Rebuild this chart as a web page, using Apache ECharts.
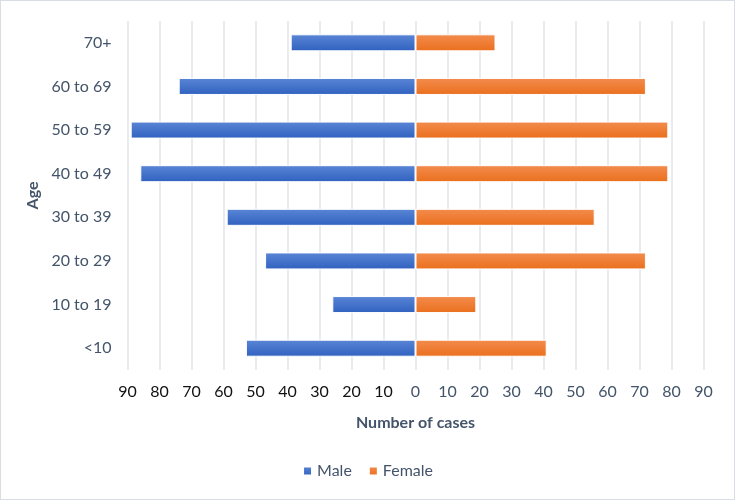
<!DOCTYPE html>
<html>
<head>
<meta charset="utf-8">
<script src="https://cdn.jsdelivr.net/npm/echarts@6/dist/echarts.min.js"></script>
<style>
html,body{margin:0;padding:0;background:#fff;}
#chart{width:733px;height:498px;border:1px solid #D9DEE6;}
</style>
</head>
<body>
<div id="chart"></div>
<script>
var categories = ['<10', '10 to 19', '20 to 29', '30 to 39', '40 to 49', '50 to 59', '60 to 69', '70+'];
var maleValues = [53, 26, 47, 59, 86, 89, 74, 39];
var femaleValues = [41, 19, 72, 56, 79, 79, 72, 25];
var xTicks = [-90, -80, -70, -60, -50, -40, -30, -20, -10, 0, 10, 20, 30, 40, 50, 60, 70, 80, 90];

var FONT = 'Lato, "Open Sans", sans-serif';
var chart = echarts.init(document.getElementById('chart'));

function grad(top, bottom) {
  return new echarts.graphic.LinearGradient(0, 0, 0, 1, [
    {offset: 0, color: top}, {offset: 1, color: bottom}
  ]);
}

chart.setOption({
  animation: false,
  textStyle: {fontFamily: FONT},
  grid: {left: 126.5, right: 30.5, top: 20, bottom: 129, containLabel: false},
  legend: {
    data: ['Male', 'Female'],
    bottom: 15,
    left: 'center',
    icon: 'rect',
    itemWidth: 9,
    itemHeight: 9,
    itemGap: 16,
    itemTextGap: 5,
    textStyle: {fontSize: 16, color: '#44546A', fontFamily: FONT}
  },
  xAxis: {
    type: 'value',
    min: xTicks[0],
    max: xTicks[xTicks.length - 1],
    interval: 10,
    name: 'Number of cases',
    nameLocation: 'middle',
    nameGap: 45,
    nameTextStyle: {fontSize: 16, fontWeight: 'bold', color: '#44546A', fontFamily: FONT},
    axisLine: {show: false},
    axisTick: {show: false},
    axisLabel: {
      margin: 14,
      fontSize: 16,
      formatter: function (v) {
        return v < 0 ? '{n|' + Math.abs(v) + '}' : '{p|' + v + '}';
      },
      rich: {
        n: {color: '#111111', fontSize: 16, fontFamily: FONT},
        p: {color: '#44546A', fontSize: 16, fontFamily: FONT}
      }
    },
    splitLine: {show: true, lineStyle: {color: '#E1E5EC', width: 1.5}}
  },
  yAxis: {
    type: 'category',
    data: categories,
    name: 'Age',
    nameLocation: 'middle',
    nameRotate: 90,
    nameGap: 86,
    nameTextStyle: {fontSize: 16, fontWeight: 'bold', color: '#44546A', fontFamily: FONT},
    axisLine: {show: false},
    axisTick: {show: false},
    axisLabel: {margin: 16, fontSize: 16, color: '#44546A', fontFamily: FONT},
    splitLine: {show: false}
  },
  series: [
    {
      name: 'Male',
      type: 'bar',
      stack: 'total',
      barWidth: 17,
      data: maleValues.map(function (v) { return -v; }),
      itemStyle: {color: grad('#5B86D6', '#2F61BF'), borderColor: '#FFFFFF', borderWidth: 1}
    },
    {
      name: 'Female',
      type: 'bar',
      stack: 'total',
      barWidth: 17,
      data: femaleValues,
      itemStyle: {color: grad('#F38C4E', '#EA6F1C'), borderColor: '#FFFFFF', borderWidth: 1}
    }
  ]
});
</script>
</body>
</html>
